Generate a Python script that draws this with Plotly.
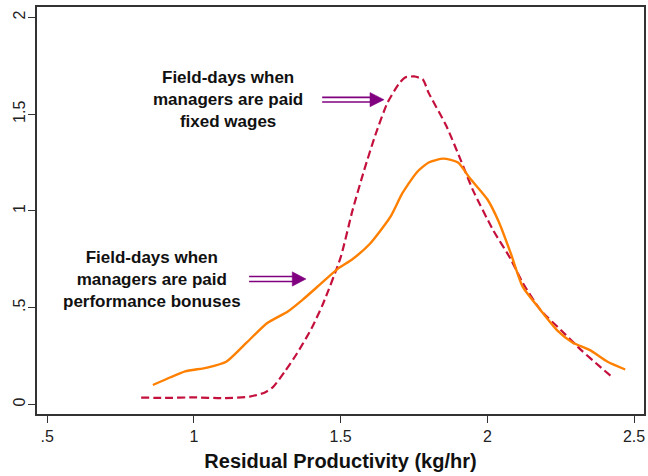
import plotly.graph_objects as go

# Kernel density: field-days when managers are paid fixed wages (dashed)
fixed_x = [0.82, 0.9, 1.0, 1.1, 1.19, 1.24, 1.27, 1.31, 1.35, 1.40, 1.44, 1.5, 1.54, 1.58,
           1.62, 1.66, 1.70, 1.72, 1.75, 1.78, 1.80, 1.86, 1.91, 1.95, 2.02, 2.08, 2.12,
           2.18, 2.26, 2.32, 2.38, 2.43]
fixed_y = [0.035, 0.033, 0.036, 0.032, 0.04, 0.06, 0.09, 0.17, 0.26, 0.39, 0.52, 0.76, 1.0,
           1.21, 1.40, 1.56, 1.66, 1.69, 1.695, 1.68, 1.61, 1.44, 1.26, 1.11, 0.90, 0.75,
           0.63, 0.49, 0.37, 0.28, 0.20, 0.135]

# Kernel density: field-days when managers are paid performance bonuses (solid)
bonus_x = [0.86, 0.92, 0.97, 1.045, 1.11, 1.18, 1.25, 1.32, 1.37, 1.43, 1.49, 1.54, 1.60,
           1.67, 1.71, 1.76, 1.80, 1.85, 1.90, 1.94, 2.0, 2.04, 2.08, 2.12, 2.18, 2.24,
           2.29, 2.35, 2.41, 2.47]
bonus_y = [0.10, 0.14, 0.17, 0.19, 0.22, 0.32, 0.42, 0.48, 0.54, 0.62, 0.70, 0.75, 0.83,
           0.97, 1.09, 1.20, 1.25, 1.27, 1.25, 1.17, 1.06, 0.94, 0.78, 0.61, 0.49, 0.38,
           0.32, 0.28, 0.22, 0.18]

x_tickvals = [0.5, 1, 1.5, 2, 2.5]
x_ticktext = [".5", "1", "1.5", "2", "2.5"]
y_tickvals = [0, 0.5, 1, 1.5, 2]
y_ticktext = ["0", ".5", "1", "1.5", "2"]

x_title = "Residual Productivity (kg/hr)"
label_fixed = "Field-days when<br>managers are paid<br>fixed wages"
label_bonus = "Field-days when<br>managers are paid<br>performance bonuses"

DASH_COLOR = "#C4103C"
SOLID_COLOR = "#FF8000"
ARROW_COLOR = "#800080"

fig = go.Figure()
fig.add_trace(go.Scatter(x=fixed_x, y=fixed_y, mode="lines",
                         line=dict(color=DASH_COLOR, width=2.2, dash="8px,4px",
                                   shape="spline", smoothing=0.6),
                         showlegend=False, hoverinfo="skip"))
fig.add_trace(go.Scatter(x=bonus_x, y=bonus_y, mode="lines",
                         line=dict(color=SOLID_COLOR, width=2.4, shape="spline", smoothing=0.6),
                         showlegend=False, hoverinfo="skip"))


def double_arrow(x0, xb, xt, yc, dy_line, dy_head):
    shapes = []
    for s in (-1, 1):
        shapes.append(dict(type="line", xref="x", yref="y", x0=x0, x1=xb + 0.005,
                           y0=yc + s * dy_line, y1=yc + s * dy_line,
                           line=dict(color=ARROW_COLOR, width=1.6)))
    shapes.append(dict(type="path", xref="x", yref="y",
                       path=f"M {xb},{yc - dy_head} L {xt},{yc} L {xb},{yc + dy_head} Z",
                       fillcolor=ARROW_COLOR, line=dict(color=ARROW_COLOR, width=0.5)))
    return shapes


shapes = []
shapes += double_arrow(1.437, 1.600, 1.648, 1.575, 0.012, 0.037)
shapes += double_arrow(1.188, 1.335, 1.382, 0.648, 0.013, 0.037)

font_ann = dict(family="Liberation Sans, Arial, sans-serif", size=17, color="#111111",
                weight="bold")
annotations = [
    dict(x=1.117, y=1.575, xref="x", yref="y", text=label_fixed, showarrow=False,
         align="center", font=font_ann, xanchor="center", yanchor="middle"),
    dict(x=0.858, y=0.645, xref="x", yref="y", text=label_bonus, showarrow=False,
         align="center", font=font_ann, xanchor="center", yanchor="middle"),
]

fig.update_layout(
    template="none",
    width=648, height=476,
    margin=dict(l=37, r=4, t=7, b=62, autoexpand=False),
    paper_bgcolor="white", plot_bgcolor="white",
    shapes=shapes, annotations=annotations,
    font=dict(family="Liberation Sans, Arial, sans-serif", color="#222222"),
)
fig.update_xaxes(range=[0.465, 2.534], tickvals=x_tickvals, ticktext=x_ticktext,
                 automargin=False,
                 ticks="outside", ticklen=7, tickwidth=1.2, tickcolor="#333333",
                 ticklabelstandoff=0,
                 showline=True, linecolor="#333333", linewidth=1.6, mirror=True,
                 showgrid=False, zeroline=False,
                 tickfont=dict(size=16, color="#222222"),
                 title=dict(text=x_title, standoff=10,
                            font=dict(size=20, color="#111111", weight="bold")))
fig.update_yaxes(range=[-0.050, 2.054], tickvals=y_tickvals, ticktext=y_ticktext,
                 automargin=False,
                 ticks="outside", ticklen=7, tickwidth=1.2, tickcolor="#333333",
                 ticklabelstandoff=-3,
                 showline=True, linecolor="#333333", linewidth=1.6, mirror=True,
                 showgrid=False, zeroline=False, tickangle=-90,
                 tickfont=dict(size=16, color="#222222"))

fig.write_html("out.html", config={"displayModeBar": False},
               post_script="document.body.style.margin='0';document.body.style.overflow='hidden';")
